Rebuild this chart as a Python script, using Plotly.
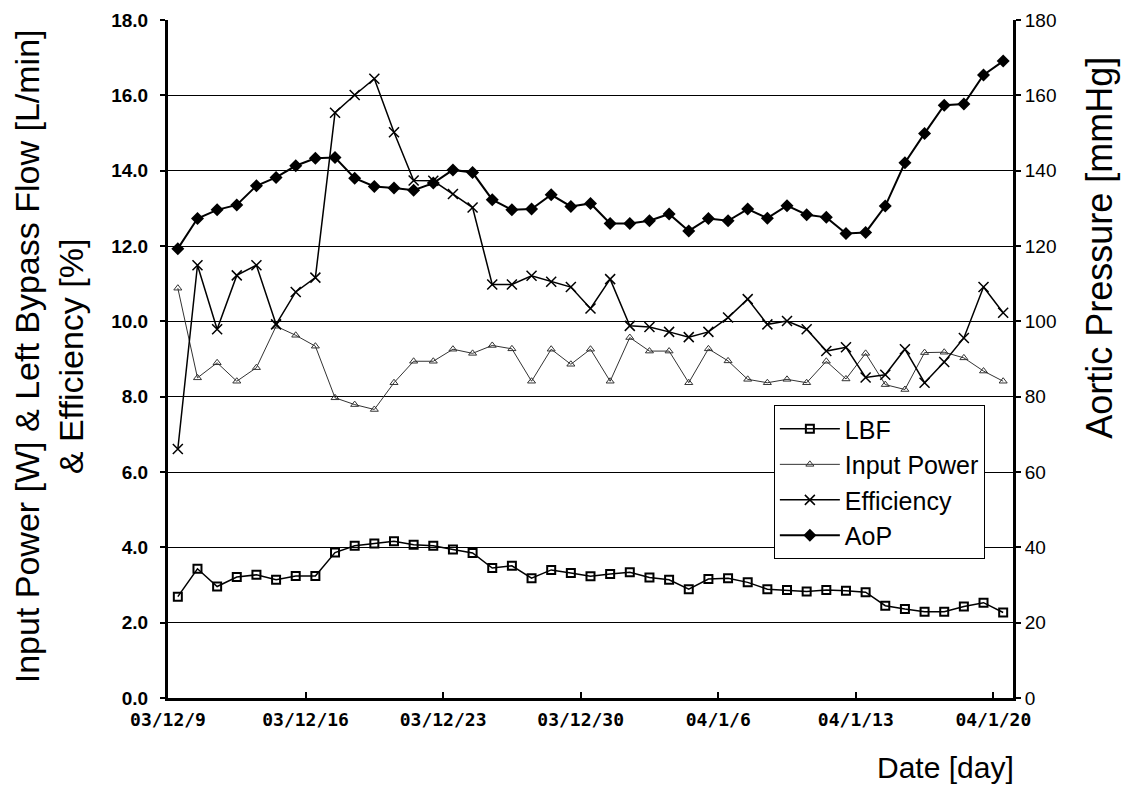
import pandas as pd
import plotly.graph_objects as go

# ---- data (one value per day, 2003-12-09 .. 2004-01-20) ----
dates = pd.date_range("2003-12-09", "2004-01-20", freq="D")

lbf = [2.69, 3.43, 2.96, 3.21, 3.27, 3.14, 3.24, 3.24, 3.86, 4.04,
       4.10, 4.16, 4.07, 4.04, 3.94, 3.85, 3.45, 3.51, 3.18, 3.40,
       3.32, 3.23, 3.29, 3.34, 3.20, 3.14, 2.89, 3.16, 3.18, 3.07,
       2.89, 2.87, 2.83, 2.87, 2.85, 2.81, 2.45, 2.36, 2.29, 2.29,
       2.43, 2.53, 2.27]

input_power = [10.88, 8.50, 8.90, 8.41, 8.77, 9.87, 9.63, 9.34, 7.97, 7.79,
               7.66, 8.37, 8.94, 8.94, 9.26, 9.15, 9.36, 9.27, 8.41, 9.26,
               8.86, 9.26, 8.41, 9.57, 9.21, 9.21, 8.37, 9.27, 8.95, 8.46,
               8.37, 8.46, 8.37, 8.94, 8.47, 9.15, 8.32, 8.19, 9.17, 9.18,
               9.03, 8.68, 8.41]

efficiency = [6.61, 11.49, 9.79, 11.22, 11.49, 9.92, 10.78, 11.16, 15.54, 16.01,
              16.44, 15.02, 13.74, 13.73, 13.38, 13.02, 10.98, 10.98, 11.21, 11.05,
              10.91, 10.34, 11.12, 9.88, 9.85, 9.72, 9.58, 9.72, 10.10, 10.59,
              9.92, 10.01, 9.79, 9.21, 9.31, 8.51, 8.58, 9.26, 8.37, 8.92,
              9.56, 10.91, 10.23]

aop = [119.3, 127.3, 129.6, 130.9, 136.0, 138.2, 141.3, 143.3, 143.5, 138.0,
       135.8, 135.4, 134.8, 136.7, 140.2, 139.5, 132.3, 129.6, 129.8, 133.6,
       130.5, 131.3, 126.0, 126.0, 126.7, 128.5, 124.0, 127.3, 126.7, 129.8,
       127.4, 130.7, 128.3, 127.6, 123.3, 123.6, 130.6, 142.1, 149.9, 157.4,
       157.7, 165.4, 169.1]

left_title = "Input Power [W] & Left Bypass Flow [L/min]<br>& Efficiency [%]"
right_title = "Aortic Pressure [mmHg]"
x_title = "Date [day]"

# points sit in the middle of each day (date axis, ticks at day boundaries)
xs = dates + pd.Timedelta(hours=12)

FONT = "Liberation Sans, Arial, sans-serif"

fig = go.Figure()
fig.add_trace(go.Scatter(
    x=xs, y=lbf, name="LBF", mode="lines+markers",
    line=dict(color="black", width=1.5),
    marker=dict(symbol="square-open", size=8, color="black", line=dict(width=2))))
fig.add_trace(go.Scatter(
    x=xs, y=input_power, name="Input Power", mode="lines+markers",
    line=dict(color="#333333", width=1),
    marker=dict(symbol="triangle-up-open", size=7, color="#333333", line=dict(width=1))))
fig.add_trace(go.Scatter(
    x=xs, y=efficiency, name="Efficiency", mode="lines+markers",
    line=dict(color="black", width=1.5),
    marker=dict(symbol="x-thin-open", size=10, color="black", line=dict(width=1.5))))
fig.add_trace(go.Scatter(
    x=xs, y=aop, name="AoP", mode="lines+markers", yaxis="y2",
    line=dict(color="black", width=2),
    marker=dict(symbol="diamond", size=10, color="black")))

fig.update_layout(
    width=1128, height=789,
    margin=dict(l=168, r=115, t=20, b=91),
    paper_bgcolor="white", plot_bgcolor="white",
    font=dict(family=FONT, color="black"),
    xaxis=dict(
        type="date", range=["2003-12-09", "2004-01-21"], automargin=False,
        tick0="2003-12-09", dtick=7 * 24 * 3600 * 1000,
        tickformat="%y/%-m/%-d",
        ticks="inside", ticklen=6, tickwidth=2, tickcolor="black",
        ticklabelstandoff=3,
        showline=True, linecolor="black", linewidth=3,
        showgrid=False, zeroline=False,
        tickfont=dict(family="DejaVu Sans Mono, monospace", size=18, weight="bold"),
    ),
    yaxis=dict(
        range=[0, 18], dtick=2, tickformat=".1f", automargin=False,
        ticks="outside", ticklen=5, tickwidth=2, tickcolor="black",
        ticklabelstandoff=8,
        showline=True, linecolor="black", linewidth=3,
        showgrid=True, gridcolor="black", gridwidth=1.2,
        zeroline=False,
        tickfont=dict(family=FONT, size=19, weight="bold"),
    ),
    yaxis2=dict(
        range=[0, 180], dtick=20, overlaying="y", side="right", automargin=False,
        ticks="outside", ticklen=5, tickwidth=2, tickcolor="black",
        showline=True, linecolor="black", linewidth=3,
        showgrid=False, zeroline=False,
        tickfont=dict(family=FONT, size=19),
    ),
    legend=dict(
        x=0.717, y=0.432, xanchor="left", yanchor="top",
        bgcolor="white", bordercolor="black", borderwidth=1,
        font=dict(family=FONT, size=25), itemwidth=60,
    ),
    showlegend=True,
)

fig.add_annotation(text=left_title, xref="paper", yref="paper",
                   x=-0.1408, y=0.504, xanchor="center", yanchor="middle",
                   textangle=-90, showarrow=False,
                   font=dict(family=FONT, size=34))
fig.add_annotation(text=right_title, xref="paper", yref="paper",
                   x=1.0, xshift=87, y=0.664, xanchor="center", yanchor="middle",
                   textangle=-90, showarrow=False,
                   font=dict(family=FONT, size=36))
fig.add_annotation(text=x_title, xref="paper", yref="paper",
                   x=0.92, y=-0.103, xanchor="center", yanchor="middle",
                   showarrow=False, font=dict(family=FONT, size=30))

# remove the default page margin so the figure sits at the window's corner
fig.write_html("out.html", config={"displayModeBar": False},
               post_script="document.body.style.margin='0';")
